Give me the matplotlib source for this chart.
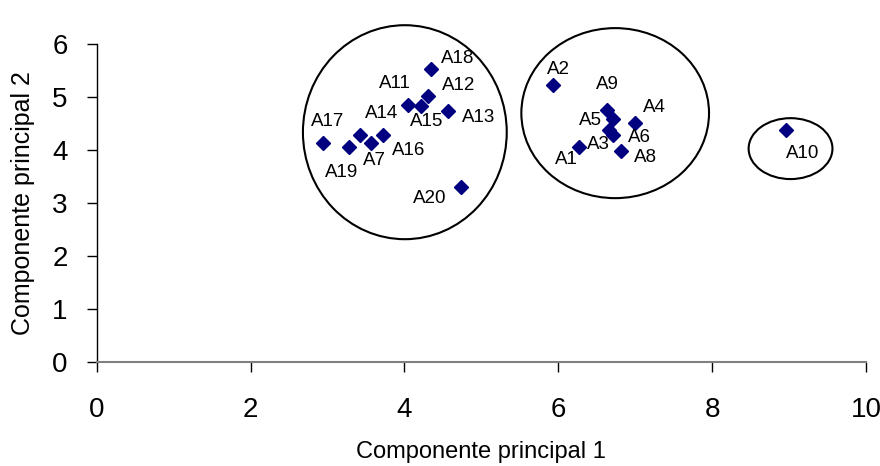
import matplotlib
matplotlib.use("Agg")
import matplotlib.pyplot as plt
from matplotlib.patches import Ellipse

plt.rcParams['font.family'] = ['Liberation Sans', 'DejaVu Sans']

# Data
labels = ["A1", "A2", "A3", "A4", "A5", "A6", "A7", "A8", "A9", "A10",
          "A11", "A12", "A13", "A14", "A15", "A16", "A17", "A18", "A19", "A20"]
pc1 = [6.27, 5.93, 6.71, 7.00, 6.71, 6.66, 3.57, 6.82, 6.64, 8.96,
       4.04, 4.30, 4.56, 3.42, 4.22, 3.72, 2.94, 4.35, 3.28, 4.74]
pc2 = [4.06, 5.23, 4.28, 4.52, 4.58, 4.38, 4.13, 3.99, 4.75, 4.39,
       4.85, 5.02, 4.74, 4.28, 4.84, 4.28, 4.13, 5.53, 4.06, 3.31]

# Cluster outlines: (center x, center y, width, height) in data units
cluster_centers_x = [4.005, 6.74, 9.02]
cluster_centers_y = [4.34, 4.70, 4.03]
cluster_widths = [2.65, 2.44, 1.09]
cluster_heights = [4.04, 3.21, 1.15]

x_ticks = [0, 2, 4, 6, 8, 10]
y_ticks = [0, 1, 2, 3, 4, 5, 6]

# label offsets (pixels)
label_offsets = {
    "A1": (-13, -12), "A2": (6, 16), "A3": (-14, -9), "A4": (19, 15),
    "A5": (-22, -1), "A6": (30, -7), "A7": (3, -17), "A8": (24, -7),
    "A9": (0, 26), "A10": (17, -24), "A11": (-13, 22), "A12": (31, 11),
    "A13": (31, -6), "A14": (22, 22), "A15": (5, -16), "A16": (26, -15),
    "A17": (5, 22), "A18": (26, 11), "A19": (-7, -25), "A20": (-32, -12),
}

fig = plt.figure(figsize=(8.8, 4.66), dpi=100)
ax = fig.add_axes([0.110, 0.223, 0.874, 0.682])

ax.plot(pc1, pc2, linestyle='none', marker='D', markersize=7.5,
        color='#000080', markeredgecolor='#000080', zorder=3)

for lab, x, y in zip(labels, pc1, pc2):
    dx, dy = label_offsets[lab]
    ax.annotate(lab, (x, y), xytext=(dx, dy), textcoords='offset pixels',
                ha='center', va='center', fontsize=13.5, color='black')

for cx, cy, w, h in zip(cluster_centers_x, cluster_centers_y, cluster_widths, cluster_heights):
    ax.add_patch(Ellipse((cx, cy), w, h, fill=False, edgecolor='black',
                         linewidth=1.5, zorder=2, clip_on=False))

ax.set_xlim(0, 10)
ax.set_ylim(0, 6)
ax.set_xticks(x_ticks)
ax.set_yticks(y_ticks)
ax.tick_params(axis='both', labelsize=20, direction='out', length=7, width=1)
ax.tick_params(axis='y', pad=14)
ax.tick_params(axis='x', pad=18)

for s in ['top', 'right']:
    ax.spines[s].set_visible(False)
ax.spines['left'].set_color('black')
ax.spines['bottom'].set_color('#808080')
ax.spines['bottom'].set_linewidth(1.5)
ax.spines['left'].set_linewidth(1)

ax.set_xlabel('Componente principal 1', fontsize=17, labelpad=13)
ax.set_ylabel('Componente principal 2', fontsize=18, labelpad=12)

fig.savefig('out.png', dpi=100)
